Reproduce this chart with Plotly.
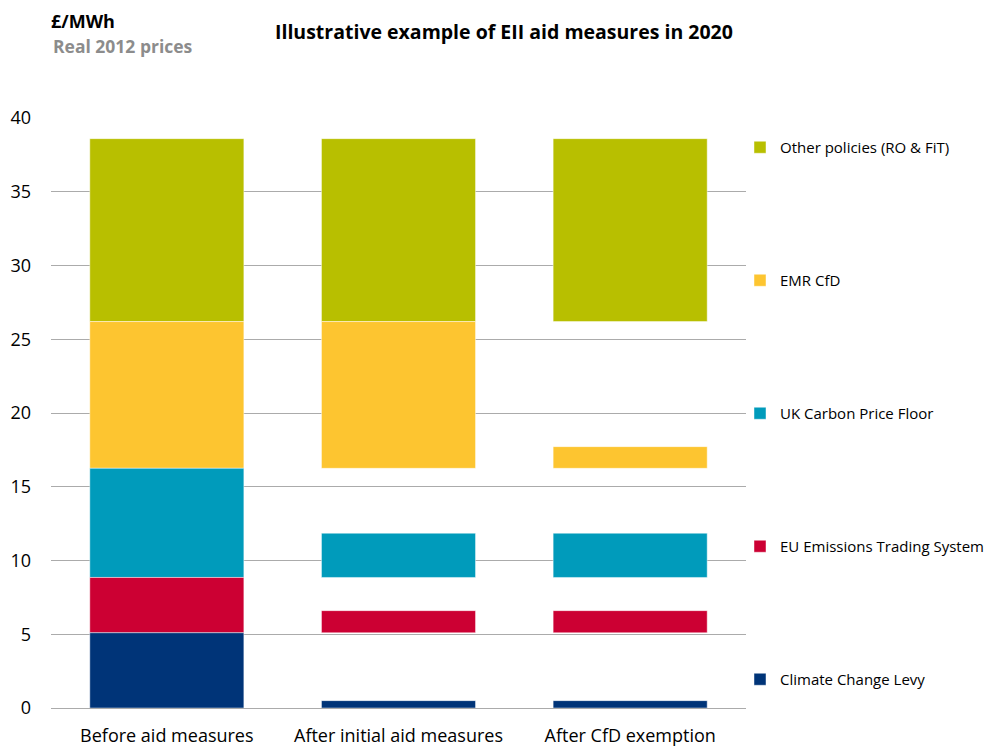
import plotly.graph_objects as go

# Categories and the stacked segments (£/MWh, real 2012 prices)
categories = ["Before aid measures", "After initial aid measures", "After CfD exemption"]

series_names = [
    "Climate Change Levy",
    "EU Emissions Trading System",
    "UK Carbon Price Floor",
    "EMR CfD",
    "Other policies (RO & FiT)",
]
# bottom of each segment per category
ccl_base = [0.0, 0.0, 0.0]
ets_base = [5.1, 5.1, 5.1]
cpf_base = [8.85, 8.85, 8.85]
emr_base = [16.25, 16.25, 16.25]
other_base = [26.2, 26.2, 26.2]
# height of each segment per category
ccl_vals = [5.1, 0.5, 0.5]
ets_vals = [3.75, 1.5, 1.5]
cpf_vals = [7.4, 3.0, 3.0]
emr_vals = [9.95, 9.95, 1.47]
other_vals = [12.4, 12.4, 12.4]

colors = ["#003478", "#CC0033", "#009BBB", "#FDC530", "#B8BF00"]
bases = [ccl_base, ets_base, cpf_base, emr_base, other_base]
values = [ccl_vals, ets_vals, cpf_vals, emr_vals, other_vals]

FONT = "'Open Sans', 'Noto Sans', sans-serif"

W, H = 990, 747
ML, MR, MT, MB = 51, 244, 118, 39
plot_w = W - ML - MR
plot_h = H - MT - MB


def px_x(x):
    return (x - ML) / plot_w


def px_y(y):
    # y measured from the top of the page
    return (H - y - MB) / plot_h


fig = go.Figure()
# add the top segment first so the legend lists series from top to bottom
for name, base, vals, col in reversed(list(zip(series_names, bases, values, colors))):
    fig.add_trace(go.Bar(
        x=categories, y=vals, base=base, name=name,
        legendgroup=name,
        marker=dict(color=col, line=dict(color="rgba(255,255,255,0.45)", width=1)),
        width=0.665,
    ))

fig.update_layout(
    width=W, height=H,
    margin=dict(l=ML, r=MR, t=MT, b=MB, autoexpand=False),
    paper_bgcolor="white", plot_bgcolor="white",
    barmode="overlay",
    font=dict(family=FONT, color="#000000"),
    showlegend=True,
    legend=dict(
        x=px_x(740), xanchor="left", y=px_y(131), yanchor="top",
        traceorder="grouped", tracegroupgap=110.5,
        font=dict(size=15, family=FONT, color="#000000"),
        itemwidth=30, bgcolor="rgba(0,0,0,0)",
    ),
    xaxis=dict(
        showgrid=False, showline=False, ticks="",
        tickfont=dict(size=18, family=FONT, color="#000000"),
        ticklabelstandoff=15,
        range=[-0.5, 2.5],
    ),
    yaxis=dict(
        range=[0, 40], dtick=5, showgrid=True, gridcolor="#ABABAB", gridwidth=1,
        zeroline=True, zerolinecolor="#ABABAB", zerolinewidth=1,
        ticks="", ticklabelstandoff=19,
        tickfont=dict(size=18, family=FONT, color="#000000"),
    ),
    annotations=[
        dict(text="<b>£/MWh</b>", x=px_x(49), y=px_y(21), xref="paper", yref="paper",
             showarrow=False, xanchor="left", yanchor="middle",
             font=dict(size=18, family=FONT, color="#000000")),
        dict(text="<b>Real 2012 prices</b>", x=px_x(51), y=px_y(46), xref="paper", yref="paper",
             showarrow=False, xanchor="left", yanchor="middle",
             font=dict(size=17.5, family=FONT, color="#8C8C8C")),
        dict(text="<b>Illustrative example of EII aid measures in 2020</b>",
             x=px_x(504), y=px_y(31), xref="paper", yref="paper",
             showarrow=False, xanchor="center", yanchor="middle",
             font=dict(size=19.5, family=FONT, color="#000000")),
    ],
)

fig.write_html("out.html")
